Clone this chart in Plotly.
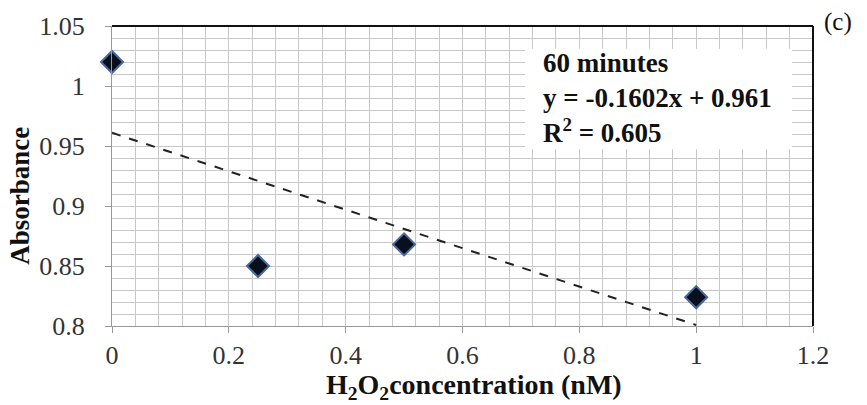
import plotly.graph_objects as go

conc = [0, 0.25, 0.5, 1.0]
absorb = [1.020, 0.850, 0.868, 0.824]
slope = -0.1602
intercept = 0.961
fit_x = [0, 1.0]
fit_y = [slope * x + intercept for x in fit_x]

x_ticks = [0, 0.2, 0.4, 0.6, 0.8, 1, 1.2]
x_labels = ["0", "0.2", "0.4", "0.6", "0.8", "1", "1.2"]
y_ticks = [0.8, 0.85, 0.9, 0.95, 1, 1.05]
y_labels = ["0.8", "0.85", "0.9", "0.95", "1", "1.05"]

FONT = "Liberation Serif, Times New Roman, serif"
GRID = "#c8c8c8"
L, R, T, B = 112, 813, 24, 326
PW, PH = R - L, B - T


def px(x):
    return (x - L) / PW


def py(y):
    return 1 - (y - T) / PH


fig = go.Figure()
fig.add_trace(go.Scatter(x=fit_x, y=fit_y, mode="lines",
                         line=dict(color="#222222", width=2, dash="dash"),
                         showlegend=False, hoverinfo="skip"))
fig.add_trace(go.Scatter(x=conc, y=absorb, mode="markers", cliponaxis=False,
                         marker=dict(symbol="diamond", size=17, color="#0a0f1e",
                                     line=dict(color="#4a6a9a", width=2)),
                         showlegend=False))

fig.update_layout(
    width=867, height=405,
    margin=dict(l=L, r=867 - R, t=T, b=405 - B),
    paper_bgcolor="white", plot_bgcolor="white",
    font=dict(family=FONT, size=26, color="#222222"),
    xaxis=dict(range=[0, 1.2], tickvals=x_ticks, ticktext=x_labels,
               tickfont=dict(size=26, color="#333333"),
               showgrid=True, gridcolor=GRID, gridwidth=1,
               minor=dict(dtick=0.04, tick0=0, showgrid=True, gridcolor=GRID, gridwidth=1),
               showline=True, linecolor="#999999", linewidth=1,
               ticks="outside", ticklen=6, tickcolor="#999999",
               ticklabelstandoff=0,
               zeroline=False),
    yaxis=dict(range=[0.8, 1.05], tickvals=y_ticks, ticktext=y_labels,
               tickfont=dict(size=26, color="#333333"),
               showgrid=True, gridcolor=GRID, gridwidth=1,
               minor=dict(dtick=0.01, tick0=0.8, showgrid=True, gridcolor=GRID, gridwidth=1),
               showline=True, linecolor="#999999", linewidth=1,
               ticks="outside", ticklen=6, tickcolor="#999999",
               ticklabelstandoff=15,
               zeroline=False),
)

# axis titles
fig.add_annotation(xref="paper", yref="paper", x=px(474), y=py(387),
                   xanchor="center", yanchor="middle", showarrow=False,
                   text="<b>H<sub>2</sub>O<sub>2</sub>concentration (nM)</b>",
                   font=dict(family=FONT, size=28, color="#111111"))
fig.add_annotation(xref="paper", yref="paper", x=px(20), y=py(195),
                   xanchor="center", yanchor="middle", showarrow=False, textangle=-90,
                   text="<b>Absorbance</b>",
                   font=dict(family=FONT, size=27, color="#111111"))

# plot-area border (top and right) in black
fig.add_shape(type="line", xref="paper", yref="paper", x0=0, x1=1, y0=1, y1=1,
              line=dict(color="#111111", width=2))
fig.add_shape(type="line", xref="paper", yref="paper", x0=1, x1=1, y0=0, y1=1,
              line=dict(color="#111111", width=2))

# equation box
fig.add_shape(type="rect", xref="paper", yref="paper",
              x0=px(525), x1=px(792), y0=py(148), y1=py(47),
              fillcolor="white", line=dict(width=0), layer="above")
fig.add_annotation(xref="paper", yref="paper",
                   x=px(541), y=py(44),
                   xanchor="left", yanchor="top", align="left", showarrow=False,
                   text="<b>60 minutes<br>y = -0.1602x + 0.961<br>R<sup>2</sup> = 0.605</b>",
                   font=dict(family=FONT, size=27, color="#111111"))

fig.add_annotation(xref="paper", yref="paper", x=px(838), y=py(20),
                   xanchor="center", yanchor="middle", showarrow=False,
                   text="(c)", font=dict(family=FONT, size=25, color="#111111"))

fig.write_html("out.html")
